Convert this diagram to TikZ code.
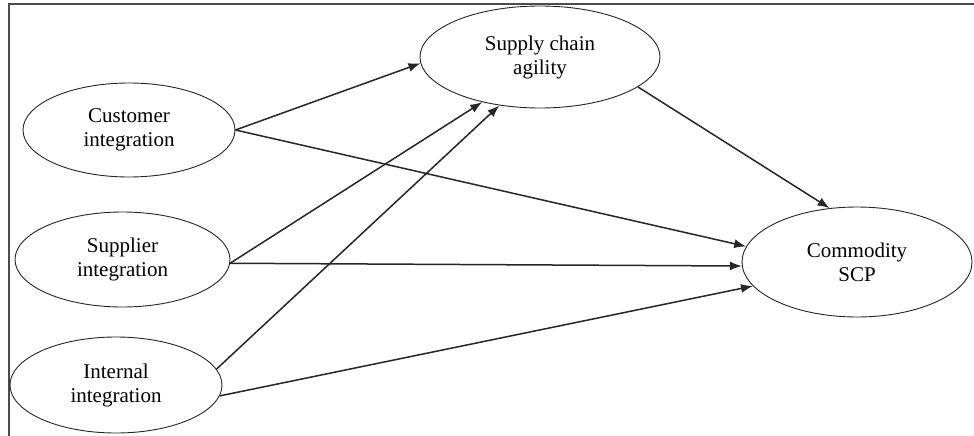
\documentclass[tikz,border=0pt]{standalone}
\usepackage{fontspec}
\setmainfont{Liberation Serif}
\usetikzlibrary{shapes.geometric,arrows.meta}
\tikzset{
  construct/.style={draw=black!85, line width=0.9pt, ellipse, inner sep=0pt,
    align=center, font=\fontsize{21}{24}\selectfont},
  path/.style={draw=black!85, line width=1.5pt, -{Latex[length=12pt,width=9pt]}, shorten >=0pt},
  frameline/.style={draw=black!70, line width=1.4pt}
}
\begin{document}
\begin{tikzpicture}[x=1pt,y=-1pt]
\useasboundingbox (0,0) rectangle (974,436);
\fill[white] (0,0) rectangle (974,436);
\coordinate (fa) at (9,436);
\coordinate (fb) at (9,4);
\coordinate (fc) at (974,4);
\draw[frameline] (fa) -- (fb) -- (fc);

\node[construct, minimum width=212pt, minimum height=94pt] (cust) at (129,130) {Customer\\integration};
\node[construct, minimum width=215pt, minimum height=95pt] (supp) at (122.5,259.5) {Supplier\\integration};
\node[construct, minimum width=212pt, minimum height=96pt] (intl) at (116,385) {Internal\\integration};
\node[construct, minimum width=240pt, minimum height=102pt] (sca) at (540,57) {Supply chain\\agility};
\node[construct, minimum width=230pt, minimum height=110pt] (scp) at (857,262) {Commodity\\SCP};

\draw[path] (cust.east) -- (sca.183);
\draw[path] (cust.east) -- (scp.172);
\draw[path] (supp.-2) -- (sca.218);
\draw[path] (supp.-2) -- (scp.182.5);
\draw[path] (intl.9.6) -- (sca.230.8);
\draw[path] (intl.-6.4) -- (scp.193.2);
\draw[path] (sca.343.5) -- (scp.117.8);
\end{tikzpicture}
\end{document}
